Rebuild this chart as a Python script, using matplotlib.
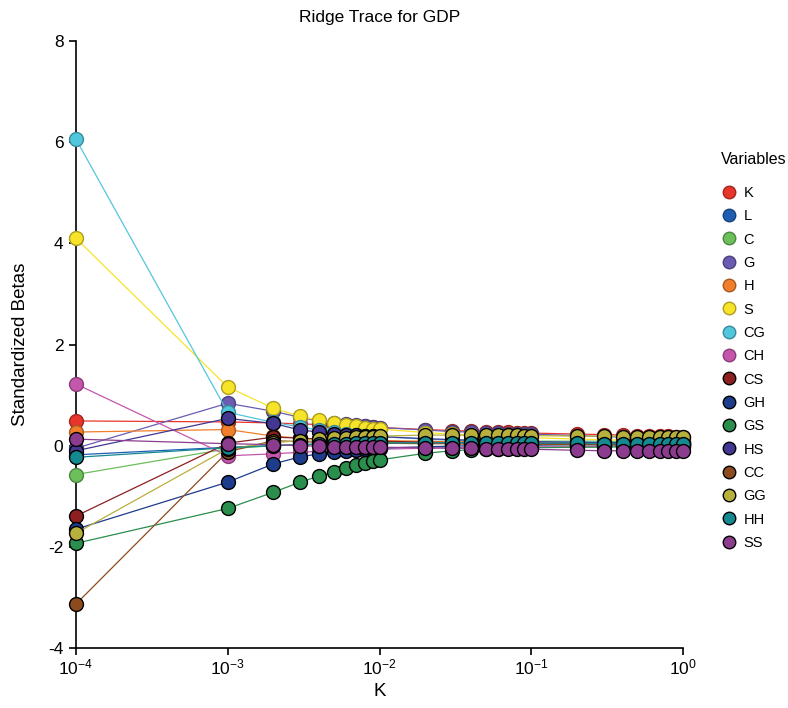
import matplotlib
matplotlib.use("Agg")
import matplotlib.pyplot as plt
import matplotlib.colors as mcolors
from matplotlib.ticker import FixedLocator, NullLocator, LogFormatterSciNotation

plt.rcParams["font.family"] = ["Liberation Sans", "DejaVu Sans"]
plt.rcParams["mathtext.fontset"] = "custom"
plt.rcParams["mathtext.rm"] = "Liberation Sans"
plt.rcParams["axes.unicode_minus"] = False

# ridge parameter values
k_values = [0.0001,
            0.001, 0.002, 0.003, 0.004, 0.005, 0.006, 0.007, 0.008, 0.009,
            0.01, 0.02, 0.03, 0.04, 0.05, 0.06, 0.07, 0.08, 0.09,
            0.1, 0.2, 0.3, 0.4, 0.5, 0.6, 0.7, 0.8, 0.9,
            1.0]

variables = ["K", "L", "C", "G", "H", "S", "CG", "CH",
             "CS", "GH", "GS", "HS", "CC", "GG", "HH", "SS"]

beta_K = [0.49,
          0.47, 0.45, 0.43, 0.42, 0.41, 0.40, 0.39, 0.38, 0.37,
          0.36, 0.32, 0.30, 0.29, 0.28, 0.27, 0.27, 0.26, 0.26,
          0.25, 0.23, 0.22, 0.21, 0.20, 0.20, 0.19, 0.19, 0.18,
          0.18]
beta_L = [-0.18,
          -0.03, 0.00, 0.02, 0.03, 0.04, 0.04, 0.05, 0.05, 0.05,
          0.05, 0.06, 0.06, 0.06, 0.06, 0.06, 0.06, 0.06, 0.06,
          0.06, 0.06, 0.06, 0.05, 0.05, 0.05, 0.05, 0.05, 0.05,
          0.05]
beta_C = [-0.57,
          -0.06, 0.00, 0.02, 0.03, 0.04, 0.05, 0.05, 0.06, 0.06,
          0.06, 0.08, 0.08, 0.09, 0.09, 0.09, 0.09, 0.09, 0.09,
          0.09, 0.09, 0.09, 0.08, 0.08, 0.08, 0.08, 0.08, 0.08,
          0.08]
beta_G = [-0.05,
          0.84, 0.68, 0.56, 0.49, 0.45, 0.42, 0.40, 0.38, 0.37,
          0.36, 0.31, 0.28, 0.27, 0.26, 0.25, 0.24, 0.24, 0.23,
          0.23, 0.20, 0.18, 0.17, 0.16, 0.16, 0.15, 0.15, 0.15,
          0.14]
beta_H = [0.27,
          0.32, 0.19, 0.15, 0.13, 0.12, 0.11, 0.11, 0.10, 0.10,
          0.10, 0.09, 0.08, 0.08, 0.08, 0.07, 0.07, 0.07, 0.07,
          0.07, 0.06, 0.06, 0.06, 0.05, 0.05, 0.05, 0.05, 0.05,
          0.05]
beta_S = [4.10,
          1.16, 0.74, 0.58, 0.50, 0.45, 0.41, 0.38, 0.36, 0.34,
          0.33, 0.26, 0.23, 0.21, 0.20, 0.19, 0.18, 0.17, 0.17,
          0.16, 0.13, 0.12, 0.11, 0.10, 0.10, 0.09, 0.09, 0.09,
          0.09]
beta_CG = [6.06,
           0.66, 0.46, 0.37, 0.31, 0.27, 0.24, 0.22, 0.20, 0.19,
           0.18, 0.13, 0.11, 0.10, 0.10, 0.09, 0.09, 0.09, 0.08,
           0.08, 0.07, 0.07, 0.06, 0.06, 0.06, 0.06, 0.05, 0.05,
           0.05]
beta_CH = [1.22,
           -0.20, -0.16, -0.13, -0.11, -0.10, -0.09, -0.08, -0.08, -0.07,
           -0.07, -0.05, -0.04, -0.04, -0.03, -0.03, -0.03, -0.03, -0.02,
           -0.02, -0.02, -0.01, -0.01, -0.01, -0.01, -0.01, -0.01, -0.01,
           -0.01]
beta_CS = [-1.39,
           0.05, 0.17, 0.15, 0.13, 0.12, 0.11, 0.10, 0.10, 0.09,
           0.09, 0.07, 0.06, 0.06, 0.05, 0.05, 0.05, 0.05, 0.05,
           0.05, 0.04, 0.04, 0.04, 0.04, 0.03, 0.03, 0.03, 0.03,
           0.03]
beta_GH = [-1.65,
           -0.72, -0.36, -0.22, -0.16, -0.12, -0.10, -0.08, -0.07, -0.06,
           -0.05, -0.02, -0.01, 0.00, 0.00, 0.01, 0.01, 0.01, 0.01,
           0.01, 0.02, 0.02, 0.02, 0.02, 0.02, 0.02, 0.02, 0.02,
           0.02]
beta_GS = [-1.93,
           -1.24, -0.92, -0.72, -0.60, -0.51, -0.44, -0.39, -0.35, -0.31,
           -0.28, -0.15, -0.10, -0.08, -0.07, -0.06, -0.05, -0.05, -0.05,
           -0.04, -0.03, -0.03, -0.02, -0.02, -0.02, -0.02, -0.02, -0.02,
           -0.02]
beta_HS = [-0.10,
           0.54, 0.44, 0.31, 0.27, 0.24, 0.22, 0.21, 0.20, 0.19,
           0.18, 0.14, 0.12, 0.11, 0.10, 0.10, 0.09, 0.09, 0.09,
           0.08, 0.07, 0.06, 0.06, 0.05, 0.05, 0.05, 0.05, 0.05,
           0.05]
beta_CC = [-3.13,
           -0.12, 0.10, 0.08, 0.07, 0.06, 0.06, 0.05, 0.05, 0.05,
           0.05, 0.04, 0.04, 0.03, 0.03, 0.03, 0.03, 0.03, 0.03,
           0.03, 0.02, 0.02, 0.02, 0.02, 0.02, 0.02, 0.02, 0.02,
           0.02]
beta_GG = [-1.73,
           -0.06, 0.06, 0.10, 0.13, 0.15, 0.16, 0.17, 0.18, 0.18,
           0.19, 0.21, 0.21, 0.21, 0.21, 0.21, 0.21, 0.21, 0.20,
           0.20, 0.19, 0.19, 0.18, 0.18, 0.18, 0.17, 0.17, 0.17,
           0.17]
beta_HH = [-0.23,
           -0.04, 0.00, 0.02, 0.03, 0.04, 0.04, 0.05, 0.05, 0.05,
           0.05, 0.06, 0.06, 0.06, 0.06, 0.06, 0.05, 0.05, 0.05,
           0.05, 0.05, 0.04, 0.04, 0.04, 0.04, 0.04, 0.03, 0.03,
           0.03]
beta_SS = [0.13,
           0.04, 0.02, 0.00, -0.01, -0.02, -0.02, -0.02, -0.03, -0.03,
           -0.03, -0.04, -0.05, -0.05, -0.06, -0.06, -0.06, -0.07, -0.07,
           -0.07, -0.09, -0.10, -0.10, -0.11, -0.11, -0.11, -0.11, -0.11,
           -0.11]

betas = [beta_K, beta_L, beta_C, beta_G, beta_H, beta_S, beta_CG, beta_CH,
         beta_CS, beta_GH, beta_GS, beta_HS, beta_CC, beta_GG, beta_HH, beta_SS]

colors = ["#E8352B", "#1F5DB3", "#6CBF5B", "#6B5CB2", "#F07E2B", "#F7E32A",
          "#52C6DC", "#C457AB", "#8E1F20", "#1E3C8C", "#2A8E4D", "#423893",
          "#8C4A1F", "#B8B03C", "#14898F", "#8B3C8F"]


def edge_of(c, dark):
    if dark:
        return "black"
    r, g, b = mcolors.to_rgb(c)
    return (r * 0.7, g * 0.7, b * 0.7)


fig = plt.figure(figsize=(7.88, 7.08), dpi=100)
ax = fig.add_axes([0.0964, 0.0847, 0.7704, 0.8573])

for i, (name, vals, col) in enumerate(zip(variables, betas, colors)):
    ax.plot(k_values, vals, color=col, lw=0.9, marker="o", markersize=10,
            markerfacecolor=col, markeredgecolor=edge_of(col, i >= 8),
            markeredgewidth=1.0, label=name, clip_on=False, zorder=3 + i)

ax.set_xscale("log")
ax.set_xlim(1e-4, 1)
ax.set_ylim(-4, 8)
ax.xaxis.set_major_locator(FixedLocator([1e-4, 1e-3, 1e-2, 1e-1, 1]))
ax.xaxis.set_major_formatter(LogFormatterSciNotation())
ax.xaxis.set_minor_locator(NullLocator())
ax.set_yticks([-4, -2, 0, 2, 4, 6, 8])

for side in ("top", "right"):
    ax.spines[side].set_visible(False)
for side in ("left", "bottom"):
    ax.spines[side].set_linewidth(1.2)
ax.tick_params(axis="both", direction="out", length=5, width=1.2,
               labelsize=12.5, pad=4)
ax.tick_params(axis="x", pad=2)

ax.set_title("Ridge Trace for GDP", fontsize=12.5, pad=14)
ax.set_xlabel("K", fontsize=13.5, labelpad=4)
ax.set_ylabel("Standardized Betas", fontsize=13.5, labelpad=14)

handles, labels = ax.get_legend_handles_labels()
leg_handles = []
for h in handles:
    lh = plt.Line2D([], [], linestyle="none", marker="o", markersize=9,
                    markerfacecolor=h.get_markerfacecolor(),
                    markeredgecolor=h.get_markeredgecolor(),
                    markeredgewidth=1.0)
    leg_handles.append(lh)
fig.text(721 / 788, 1 - 160 / 708, "Variables", fontsize=11.5,
         ha="left", va="center")
fig.legend(leg_handles, labels, loc="upper left",
           bbox_to_anchor=(0.897, 0.756), frameon=False, fontsize=10.5,
           labelspacing=0.64, handletextpad=0.4, handlelength=1.2)

fig.savefig("out.png", dpi=100)
